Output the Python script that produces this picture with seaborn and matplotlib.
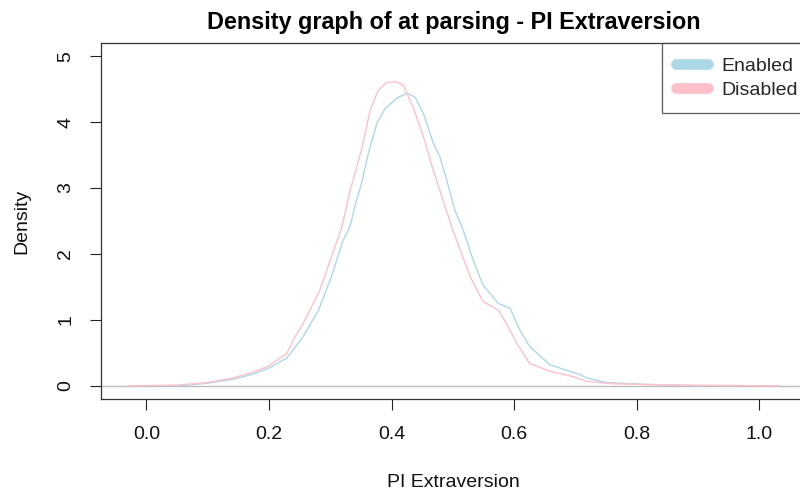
import matplotlib
matplotlib.use("Agg")
import matplotlib.pyplot as plt
from matplotlib.lines import Line2D
import seaborn as sns
import pandas as pd

# ---- data ----
enabled_x = [0.028, 0.06, 0.10, 0.142, 0.175, 0.186, 0.20, 0.229, 0.256, 0.281,
             0.302, 0.321, 0.332, 0.343, 0.351, 0.362, 0.376, 0.389, 0.408, 0.425,
             0.438, 0.452, 0.468, 0.479, 0.490, 0.503, 0.517, 0.533, 0.549, 0.574,
             0.593, 0.609, 0.625, 0.658, 0.707, 0.718, 0.750, 0.82, 0.910]
enabled_y = [0.0, 0.005, 0.04, 0.10, 0.18, 0.22, 0.27, 0.42, 0.75, 1.15,
             1.66, 2.21, 2.41, 2.82, 3.07, 3.52, 3.98, 4.20, 4.36, 4.44,
             4.38, 4.13, 3.68, 3.47, 3.12, 2.67, 2.36, 1.91, 1.53, 1.25,
             1.18, 0.85, 0.60, 0.32, 0.17, 0.12, 0.05, 0.02, 0.0]

disabled_x = [-0.031, 0.0, 0.05, 0.10, 0.142, 0.175, 0.20, 0.213, 0.229, 0.24,
              0.256, 0.283, 0.302, 0.319, 0.332, 0.351, 0.365, 0.378, 0.392, 0.408,
              0.419, 0.435, 0.452, 0.468, 0.482, 0.500, 0.528, 0.549, 0.574, 0.587,
              0.604, 0.625, 0.658, 0.696, 0.718, 0.761, 0.87, 1.033]
disabled_y = [0.0, 0.003, 0.01, 0.05, 0.12, 0.21, 0.30, 0.39, 0.49, 0.70,
              0.95, 1.45, 1.96, 2.41, 2.95, 3.58, 4.18, 4.48, 4.60, 4.61,
              4.56, 4.23, 3.78, 3.27, 2.87, 2.36, 1.66, 1.28, 1.15, 0.95,
              0.65, 0.34, 0.22, 0.14, 0.07, 0.03, 0.01, 0.0]

groups = ["Enabled", "Disabled"]
colors = ["#ADD8E6", "#FFC0CB"]
x_ticks = [0.0, 0.2, 0.4, 0.6, 0.8, 1.0]
x_tick_labels = ["0.0", "0.2", "0.4", "0.6", "0.8", "1.0"]
y_ticks = [0, 1, 2, 3, 4, 5]
y_tick_labels = ["0", "1", "2", "3", "4", "5"]
title = "Density graph of at parsing - PI Extraversion"
x_label = "PI Extraversion"
y_label = "Density"

df = pd.concat([
    pd.DataFrame({"x": enabled_x, "density": enabled_y, "group": groups[0]}),
    pd.DataFrame({"x": disabled_x, "density": disabled_y, "group": groups[1]}),
], ignore_index=True)

sns.set_style("ticks")
plt.rcParams["font.family"] = ["Liberation Sans", "DejaVu Sans"]

W, H = 800, 494
fig = plt.figure(figsize=(W / 100, H / 100), dpi=100)
left, right, top, bottom = 101, 806, 43, 399
ax = fig.add_axes([left / W, (H - bottom) / H, (right - left) / W, (bottom - top) / H])

ax.axhline(0, color="#BEBEBE", lw=1.0, zorder=1)
sns.lineplot(data=df, x="x", y="density", hue="group", hue_order=groups,
             palette=dict(zip(groups, colors)), estimator=None, sort=False,
             lw=1.0, legend=False, ax=ax, zorder=2)

ax.set_xlim(-0.074, 1.076)
ax.set_ylim(-0.2, 5.2)
ax.set_xticks(x_ticks)
ax.set_xticklabels(x_tick_labels)
ax.set_yticks(y_ticks)
ax.set_yticklabels(y_tick_labels, rotation=90, va="center")
ax.tick_params(axis="both", length=7.9, width=0.8, color="#222222",
               labelsize=14, pad=11.5, labelcolor="#111111")
for s in ax.spines.values():
    s.set_color("#333333")
    s.set_linewidth(0.9)
ax.set_xlabel("")
ax.set_ylabel("")

fig.text(453.5 / W, 1 - 482 / H, x_label, ha="center", va="center", fontsize=14, color="#111111")
fig.text(22 / W, 1 - 221 / H, y_label, ha="center", va="center", rotation=90, fontsize=14, color="#111111")
fig.text(453.5 / W, 1 - 28.5 / H, title, ha="center", va="baseline", fontsize=16.8,
         fontweight="bold", color="#000000")

handles = [Line2D([0], [0], color=c, lw=7.7, solid_capstyle="round") for c in colors]
leg = ax.legend(handles, groups, loc="upper left", bbox_to_anchor=(661.7 / W, 1 - 43.3 / H),
                bbox_transform=fig.transFigure, fontsize=14, frameon=True, fancybox=False,
                borderaxespad=0, borderpad=0.72, handlelength=1.65, handletextpad=0.7,
                labelspacing=0.31)
leg.get_frame().set_edgecolor("#333333")
leg.get_frame().set_linewidth(0.9)

fig.savefig("out.png", dpi=100)
